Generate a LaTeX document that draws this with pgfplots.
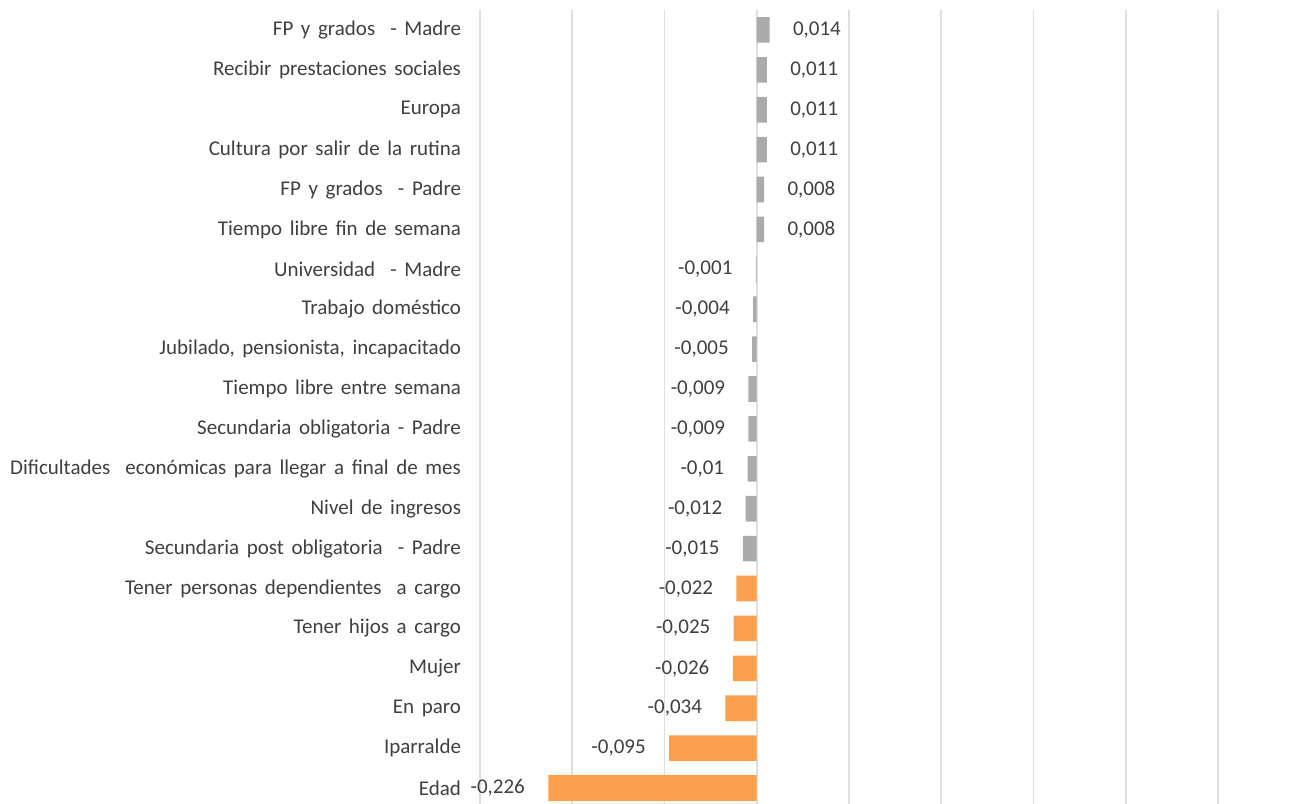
\documentclass[border=0pt]{standalone}
\usepackage{fontspec}
\setmainfont{Carlito}[WordSpace=1.6]
\usepackage{pgfplots}
\pgfplotsset{compat=1.18}

\definecolor{barorange}{HTML}{FBA04F}
\definecolor{bargray}{HTML}{ABABAB}
\definecolor{txtgray}{HTML}{404040}
\definecolor{gridgray}{HTML}{DFDFDF}

\begin{document}
\begin{tikzpicture}
\begin{axis}[
    scale only axis,
    width=369pt, height=397pt,
    xbar, bar shift=0pt, bar width=12.8pt,
    xmin=-0.3, xmax=0.5,
    ymin=-0.4, ymax=19.5,
    xtick={-0.3,-0.2,...,0.5}, xticklabels={},
    xmajorgrids, grid style={gridgray, line width=0.8pt},
    axis line style={draw=none},
    tick style={draw=none},
    ytick={0,...,19},
    yticklabels={Edad, Iparralde, En paro, Mujer, Tener hijos a cargo,
        Tener personas dependientes~ a cargo,
        Secundaria post obligatoria~ - Padre, Nivel de ingresos,
        Dificultades~ económicas para llegar a final de mes,
        Secundaria obligatoria - Padre, Tiempo libre entre semana,
        {Jubilado, pensionista, incapacitado}, Trabajo doméstico,
        Universidad~ - Madre, Tiempo libre fin de semana,
        FP y grados~ - Padre, Cultura por salir de la rutina,
        Europa, Recibir prestaciones sociales, FP y grados~ - Madre},
    yticklabel style={font=\fontsize{10.5}{12}\selectfont, text=txtgray, xshift=-1.7pt},
    /pgf/number format/.cd, use comma, fixed, precision=3, assume math mode=true,
    /pgfplots/.cd,
    nodes near coords,
    nodes near coords align={horizontal},
    every node near coord/.append style={font=\fontsize{10.5}{12}\selectfont,
        text=txtgray, inner xsep=11.5pt},
    clip=false,
]
\addplot[fill=bargray, draw=none] coordinates {
    (0.014,19) (0.011,18) (0.011,17) (0.011,16) (0.008,15) (0.008,14)
    (-0.001,13) (-0.004,12) (-0.005,11) (-0.009,10) (-0.009,9)
    (-0.01,8) (-0.012,7) (-0.015,6)
};
\addplot[fill=barorange, draw=none] coordinates {
    (-0.022,5) (-0.025,4) (-0.026,3) (-0.034,2) (-0.095,1) (-0.226,0)
};
\end{axis}
\pgfresetboundingbox
\path (-240pt,0pt) rectangle (406pt,402pt);
\end{tikzpicture}
\end{document}
